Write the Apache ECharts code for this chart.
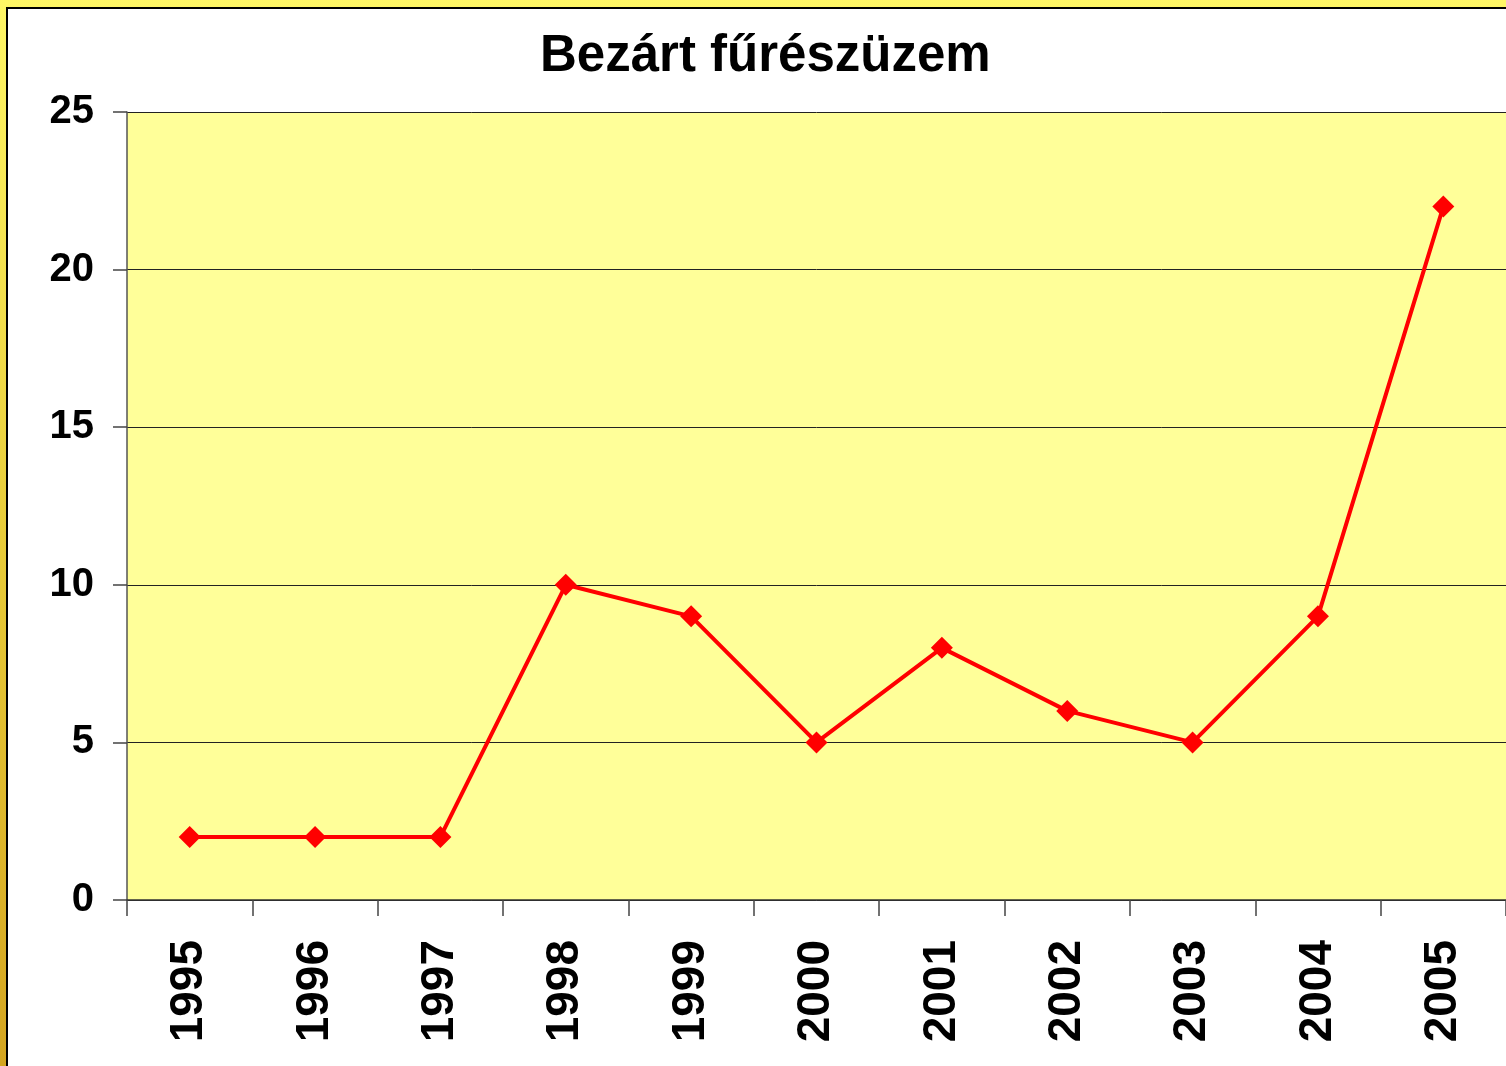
<!DOCTYPE html>
<html>
<head>
<meta charset="utf-8">
<script src="https://cdn.jsdelivr.net/npm/echarts@6/dist/echarts.min.js"></script>
<style>
  html, body { margin:0; padding:0; width:1506px; height:1066px; overflow:hidden; }
  body { background: linear-gradient(to bottom, #FFF766 0%, #E8CC3A 50%, #D4A520 100%); position:relative; }
  #frame { position:absolute; left:6px; top:7px; width:1520px; height:1080px; background:#fff; border-left:2px solid #000; border-top:2px solid #000; }
  #chart { position:absolute; left:0; top:0; width:1506px; height:1066px; }
</style>
</head>
<body>
<div id="frame"></div>
<div id="chart"></div>
<script>
const titleText = 'Bezárt fűrészüzem';
const years = ['1995','1996','1997','1998','1999','2000','2001','2002','2003','2004','2005'];
const closedMills = [2, 2, 2, 10, 9, 5, 8, 6, 5, 9, 22];
const yTicks = { min: 0, max: 25, interval: 5 };

const chart = echarts.init(document.getElementById('chart'), null, { renderer: 'canvas' });
const fontFamily = '"Liberation Sans", Arial, sans-serif';
chart.setOption({
  backgroundColor: 'transparent',
  animation: false,
  title: {
    text: titleText,
    left: 535,
    top: 26,
    textStyle: { fontFamily, fontWeight: 'bold', fontSize: 51, color: '#000' }
  },
  grid: {
    left: 127, top: 112, width: 1382, height: 788,
    show: true, backgroundColor: '#FFFF99', borderWidth: 0
  },
  xAxis: {
    type: 'category',
    data: years,
    boundaryGap: true,
    axisLine: { show: true, lineStyle: { color: '#333', width: 1.5 } },
    axisTick: { show: true, length: 16, lineStyle: { color: '#444', width: 1.5 } },
    axisLabel: {
      rotate: 90, margin: 40, interval: 0,
      fontFamily, fontWeight: 'bold', fontSize: 46, color: '#000'
    },
    splitLine: { show: false }
  },
  yAxis: {
    type: 'value',
    min: yTicks.min, max: yTicks.max, interval: yTicks.interval,
    axisLine: { show: true, lineStyle: { color: '#555', width: 1.5 } },
    axisTick: { show: true, length: 14, lineStyle: { color: '#444', width: 1.5 } },
    axisLabel: { margin: 33, fontFamily, fontWeight: 'bold', fontSize: 40, color: '#000' },
    splitLine: { show: true, lineStyle: { color: '#222', width: 1 } }
  },
  series: [{
    type: 'line',
    data: closedMills,
    symbol: 'diamond',
    symbolSize: 22,
    itemStyle: { color: '#FF0000' },
    lineStyle: { color: '#FF0000', width: 4 },
    label: { show: false }
  }]
});
</script>
</body>
</html>
